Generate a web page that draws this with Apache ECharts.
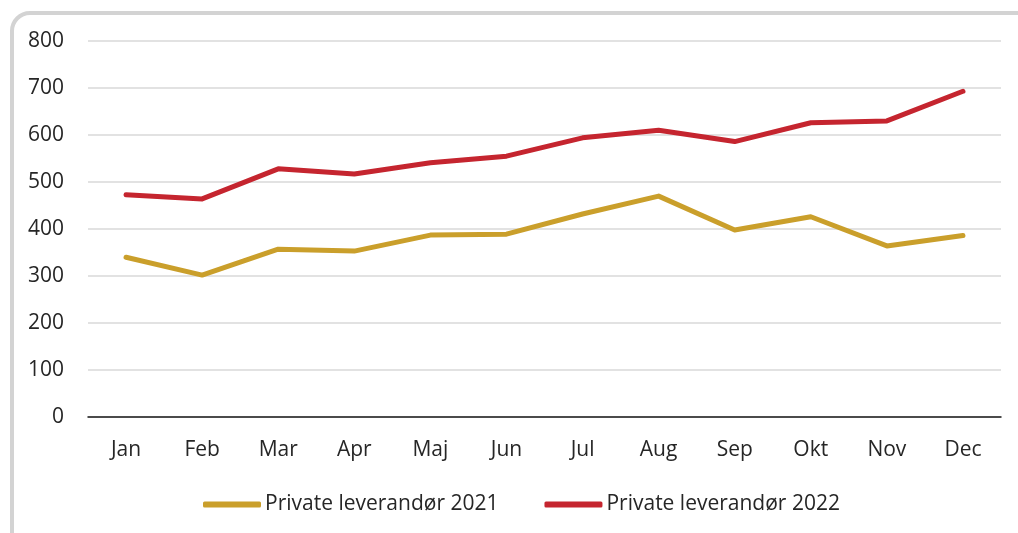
<!DOCTYPE html>
<html>
<head>
<meta charset="utf-8">
<script src="https://cdn.jsdelivr.net/npm/echarts@6/dist/echarts.min.js"></script>
<style>
  html, body { margin: 0; padding: 0; background: #fff; overflow: hidden; }
  .frame {
    position: absolute; left: 10px; top: 11px; width: 1030px; height: 550px;
    border: 4px solid #d3d3d3; border-radius: 20px; box-sizing: border-box;
  }
  #chart { position: absolute; left: 0; top: 0; width: 1018px; height: 533px; }
</style>
</head>
<body>
<div class="frame"></div>
<div id="chart"></div>
<script>
// måneder
const months = ['Jan', 'Feb', 'Mar', 'Apr', 'Maj', 'Jun', 'Jul', 'Aug', 'Sep', 'Okt', 'Nov', 'Dec']
// serier
const private2021 = [340, 302, 357, 353, 387, 389, 432, 470, 398, 426, 364, 386]
const private2022 = [473, 464, 528, 517, 541, 555, 594, 610, 586, 626, 630, 693]
const seriesNames = ['Private leverandør 2021', 'Private leverandør 2022']
const colors = ['#CA9F2B', '#C5252F']

const font = '"Open Sans", "Noto Sans", sans-serif'
const chart = echarts.init(document.getElementById('chart'))

chart.setOption({
  animation: false,
  grid: { left: 88, right: 17, top: 41, bottom: 116 },
  legend: {
    data: seriesNames.map((name, i) => ({ name, itemStyle: { color: colors[i] } })),
    top: 494,
    left: 203,
    padding: 0,
    itemWidth: 58,
    itemHeight: 6,
    itemGap: 46,
    icon: 'roundRect',
    textStyle: { fontFamily: font, fontSize: 21, color: '#262626', padding: [0, 0, 0, -1] }
  },
  xAxis: {
    type: 'category',
    data: months,
    boundaryGap: true,
    axisLine: { lineStyle: { color: '#1a1a1a', width: 1.5 } },
    axisTick: { show: false },
    axisLabel: { fontFamily: font, fontSize: 21, color: '#262626', margin: 23 }
  },
  yAxis: {
    type: 'value',
    min: 0,
    max: 800,
    interval: 100,
    axisLine: { show: false },
    axisTick: { show: false },
    splitLine: { lineStyle: { color: '#d9d9d9', width: 1.5 } },
    axisLabel: { fontFamily: font, fontSize: 21, color: '#262626', margin: 24 }
  },
  series: [private2021, private2022].map((data, i) => ({
    name: seriesNames[i],
    type: 'line',
    data,
    symbol: 'none',
    lineStyle: { color: colors[i], width: 5, cap: 'round', join: 'round' },
    itemStyle: { color: colors[i] }
  }))
})
</script>
</body>
</html>
